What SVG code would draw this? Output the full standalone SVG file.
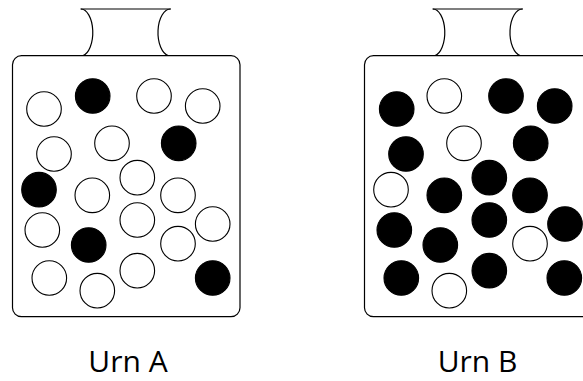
<svg xmlns="http://www.w3.org/2000/svg" width="583" height="381" viewBox="0 0 583 381">
<style>
.line{fill:none;stroke:#000;stroke-width:1.2}
.body{fill:#fff;stroke:#000;stroke-width:1.2}
.w{fill:#fff;stroke:#000;stroke-width:1.1}
.b{fill:#000;stroke:#000;stroke-width:1.1}
.lbl{font-family:"Open Sans","Noto Sans",sans-serif;font-size:30px;fill:#000;text-anchor:middle}
</style>
<rect width="583" height="381" fill="#fff"/>
<defs>
<g id="urn-shape">
<path class="line" d="M80.7,9 H170.7"/>
<path class="line" d="M80.7,9 A12,23.5 0 0 1 82.7,55.7"/>
<path class="line" d="M170.7,9 A12.5,23.5 0 0 0 168.5,55.7"/>
<rect class="body" x="12.5" y="55.7" width="227.5" height="261" rx="9"/>
</g>
</defs>
<g id="urn-a">
<use href="#urn-shape"/>
<circle class="w" cx="44" cy="109" r="17.3"/>
<circle class="b" cx="92.7" cy="96" r="17.3"/>
<circle class="w" cx="154" cy="96" r="17.3"/>
<circle class="w" cx="202.7" cy="106" r="17.3"/>
<circle class="w" cx="54" cy="154" r="17.3"/>
<circle class="w" cx="112" cy="143.3" r="17.3"/>
<circle class="b" cx="178.7" cy="143.3" r="17.3"/>
<circle class="b" cx="39" cy="189.7" r="17.3"/>
<circle class="w" cx="137.3" cy="177.7" r="17.3"/>
<circle class="w" cx="92.3" cy="195.3" r="17.3"/>
<circle class="w" cx="178" cy="195.3" r="17.3"/>
<circle class="w" cx="42.3" cy="230" r="17.3"/>
<circle class="w" cx="137.3" cy="220" r="17.3"/>
<circle class="w" cx="212.7" cy="224" r="17.3"/>
<circle class="b" cx="88.7" cy="245" r="17.3"/>
<circle class="w" cx="178" cy="243.7" r="17.3"/>
<circle class="w" cx="49.3" cy="278" r="17.3"/>
<circle class="w" cx="137.3" cy="270.7" r="17.3"/>
<circle class="w" cx="97.3" cy="290.7" r="17.3"/>
<circle class="b" cx="212.7" cy="278" r="17.3"/>
</g>
<g id="urn-b">
<use href="#urn-shape" x="352"/>
<circle class="b" cx="396.7" cy="109" r="17.3"/>
<circle class="w" cx="444.3" cy="96" r="17.3"/>
<circle class="b" cx="506" cy="96" r="17.3"/>
<circle class="b" cx="554.7" cy="106" r="17.3"/>
<circle class="b" cx="406" cy="154" r="17.3"/>
<circle class="w" cx="464" cy="143.3" r="17.3"/>
<circle class="b" cx="530.7" cy="143.3" r="17.3"/>
<circle class="w" cx="391" cy="189.7" r="17.3"/>
<circle class="b" cx="489.3" cy="177.7" r="17.3"/>
<circle class="b" cx="444.3" cy="195.3" r="17.3"/>
<circle class="b" cx="530" cy="195.3" r="17.3"/>
<circle class="b" cx="394.3" cy="230" r="17.3"/>
<circle class="b" cx="489.3" cy="220" r="17.3"/>
<circle class="b" cx="565" cy="224" r="17.3"/>
<circle class="b" cx="440.3" cy="245" r="17.3"/>
<circle class="w" cx="530" cy="243.7" r="17.3"/>
<circle class="b" cx="401.3" cy="278" r="17.3"/>
<circle class="b" cx="489.3" cy="270.7" r="17.3"/>
<circle class="w" cx="449.3" cy="290.7" r="17.3"/>
<circle class="b" cx="564.3" cy="278" r="17.3"/>
</g>
<g id="label-a"><text class="lbl" x="128" y="372">Urn A</text></g>
<g id="label-b"><text class="lbl" x="477.5" y="372">Urn B</text></g>
</svg>
